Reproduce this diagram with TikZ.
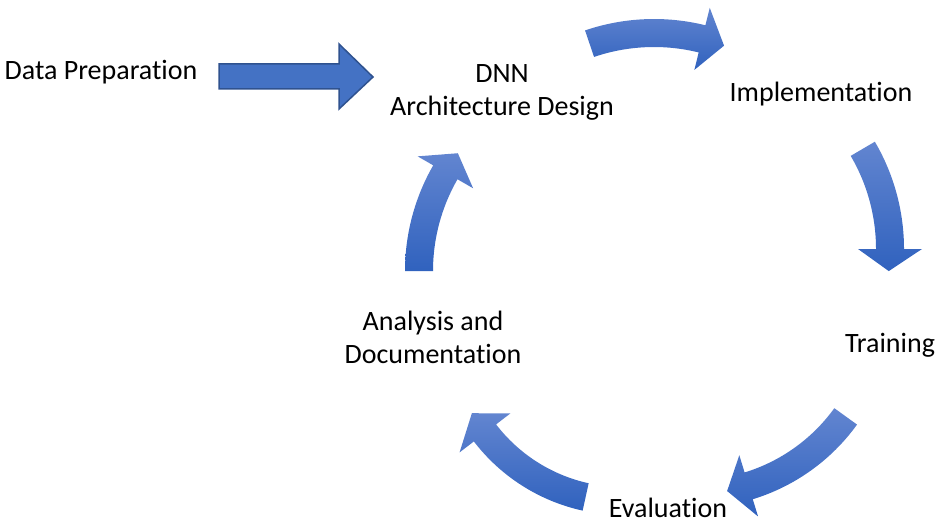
\documentclass[tikz,border=0pt]{standalone}
\usepackage{fontspec}
\setmainfont{Carlito}[Ligatures=CommonOff]
\usepackage{xcolor}
\usepackage{tikz}
\usetikzlibrary{shapes,arrows,positioning,calc}

\definecolor{blueTop}{RGB}{98,133,208}
\definecolor{blueBot}{RGB}{48,98,190}
\definecolor{blueFill}{RGB}{68,114,196}
\definecolor{blueLine}{RGB}{47,82,143}

\begin{document}
\begin{tikzpicture}[
    x=1pt, y=-1pt,
    lbl/.style={align=center, inner sep=0pt, font=\fontsize{28}{33}\selectfont},
    bendarrow/.style={top color=blueTop, bottom color=blueBot, draw=none}
]
    \useasboundingbox (0,0) rectangle (944,532);

    \node[lbl, anchor=base] (prep) at (101,80) {Data Preparation};
    \node[lbl] (dnn) at (502,92.5) {DNN\\Architecture Design};
    \node[lbl, anchor=base] (impl) at (821,102) {Implementation};
    \node[lbl, anchor=base] (train) at (890,352) {Training};
    \node[lbl, anchor=base] (eval) at (668,517) {Evaluation};
    \node[lbl] (anal) at (433,337.5) {Analysis and\\Documentation};

    % straight arrow into the cycle
    \draw[fill=blueFill, draw=blueLine, line width=1.5pt]
        (219,64) -- (339,64) -- (339,44) -- (373,77) -- (339,109) -- (339,89) -- (219,89) -- cycle;

    % curved arrows: centre x/centre y/radius/tail angle/head angle/tip angle
    \foreach \cx/\cy/\r/\a/\b/\t in {654/233/200/-108.8/-76.1/-69.5,
                                    692/249/198/-30.4/0/6.4,
                                    694/307/187/35.8/73/79.8,
                                    623/327/174/102.4/142.5/150.3,
                                    617/271/198/180/209.9/216.5}{
        \begin{scope}[shift={(\cx,\cy)}]
            \path[bendarrow] ({\a}:{\r+14}) arc[start angle=\a, end angle=\b, radius={\r+14}]
                -- ({\b}:{\r+32}) -- ({\t}:{\r}) -- ({\b}:{\r-32}) -- ({\b}:{\r-14})
                arc[start angle=\b, end angle=\a, radius={\r-14}] -- cycle;
        \end{scope}
    }
\end{tikzpicture}
\end{document}
